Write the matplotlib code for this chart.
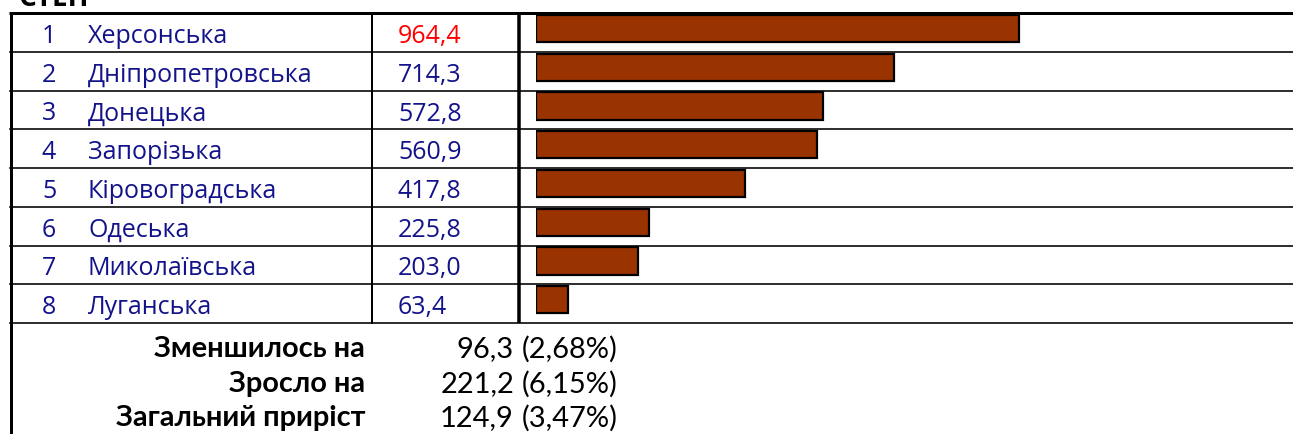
import numpy as np
import matplotlib
matplotlib.use('Agg')
import matplotlib.pyplot as plt

# data
ranks = ['1', '2', '3', '4', '5', '6', '7', '8']
regions = ['Херсонська', 'Дніпропетровська', 'Донецька', 'Запорізька',
           'Кіровоградська', 'Одеська', 'Миколаївська', 'Луганська']
values = [964.4, 714.3, 572.8, 560.9, 417.8, 225.8, 203.0, 63.4]
value_labels = ['964,4', '714,3', '572,8', '560,9', '417,8', '225,8', '203,0', '63,4']
summary_names = ['Зменшилось на', 'Зросло на', 'Загальний приріст']
summary_values = ['96,3', '221,2', '124,9']
summary_pct = ['(2,68%)', '(6,15%)', '(3,47%)']
title = 'СТЕП'

W, H = 1293, 435
PX = 0.72  # points per pixel at dpi 100

fig = plt.figure(figsize=(W / 100, H / 100), dpi=100)

# overlay in pixel coordinates for the table grid and text
ov = fig.add_axes([0, 0, 1, 1])
ov.set_xlim(0, W)
ov.set_ylim(H, 0)
ov.axis('off')

top, bottom = 14, 324
row_h = (bottom - top) / len(regions)

# grid
ov.plot([9, W], [top, top], color='black', lw=3 * PX, solid_capstyle='butt')
ov.plot([10.5, 10.5], [top - 1.5, H], color='black', lw=3 * PX, solid_capstyle='butt')
for i in range(1, len(regions) + 1):
    y = top + i * row_h
    ov.plot([10, W], [y, y], color='black', lw=1.6 * PX)
ov.plot([372, 372], [top, bottom], color='black', lw=2 * PX)
ov.plot([519, 519], [top, bottom], color='black', lw=3.5 * PX, solid_capstyle='butt')

row_font = 'Open Sans'
navy = '#12128a'
fs = 25 * PX
for i, (r, name, lab) in enumerate(zip(ranks, regions, value_labels)):
    yb = top + i * row_h + 29
    ov.text(49, yb, r, ha='center', va='baseline', fontsize=fs, color=navy, family=row_font)
    ov.text(88, yb, name, ha='left', va='baseline', fontsize=fs, color=navy, family=row_font)
    ov.text(398, yb, lab, ha='left', va='baseline', fontsize=fs,
            color='#ff0000' if i == 0 else navy, family=row_font)

# summary block
sum_y = [349, 384, 418]
for name, v, p, y in zip(summary_names, summary_values, summary_pct, sum_y):
    ov.text(365, y, name, ha='right', va='center', fontsize=29 * PX,
            fontweight='bold', color='black', family='Lato')
    ov.text(514, y, v, ha='right', va='center', fontsize=29 * PX,
            color='black', family='Lato')
    ov.text(522, y, p, ha='left', va='center', fontsize=29 * PX,
            color='black', family='Lato')

# cut-off title at the very top
ov.text(18, 6, title, ha='left', va='baseline', fontsize=28 * PX,
        fontweight='bold', color='black', family='Open Sans')

# bars
bx0 = 536
scale = 0.5008  # pixels per unit
bax = fig.add_axes([bx0 / W, (H - bottom) / H, (W - bx0) / W, (bottom - top) / H])
bax.set_xlim(0, (W - bx0) / scale)
bax.set_ylim(len(values), 0)
bax.axis('off')
bax.patch.set_alpha(0)
bax.barh(np.arange(len(values)) + 0.4, values, height=0.7, color='#993300',
         edgecolor='black', linewidth=2.2 * PX)

fig.savefig('out.png', dpi=100)
